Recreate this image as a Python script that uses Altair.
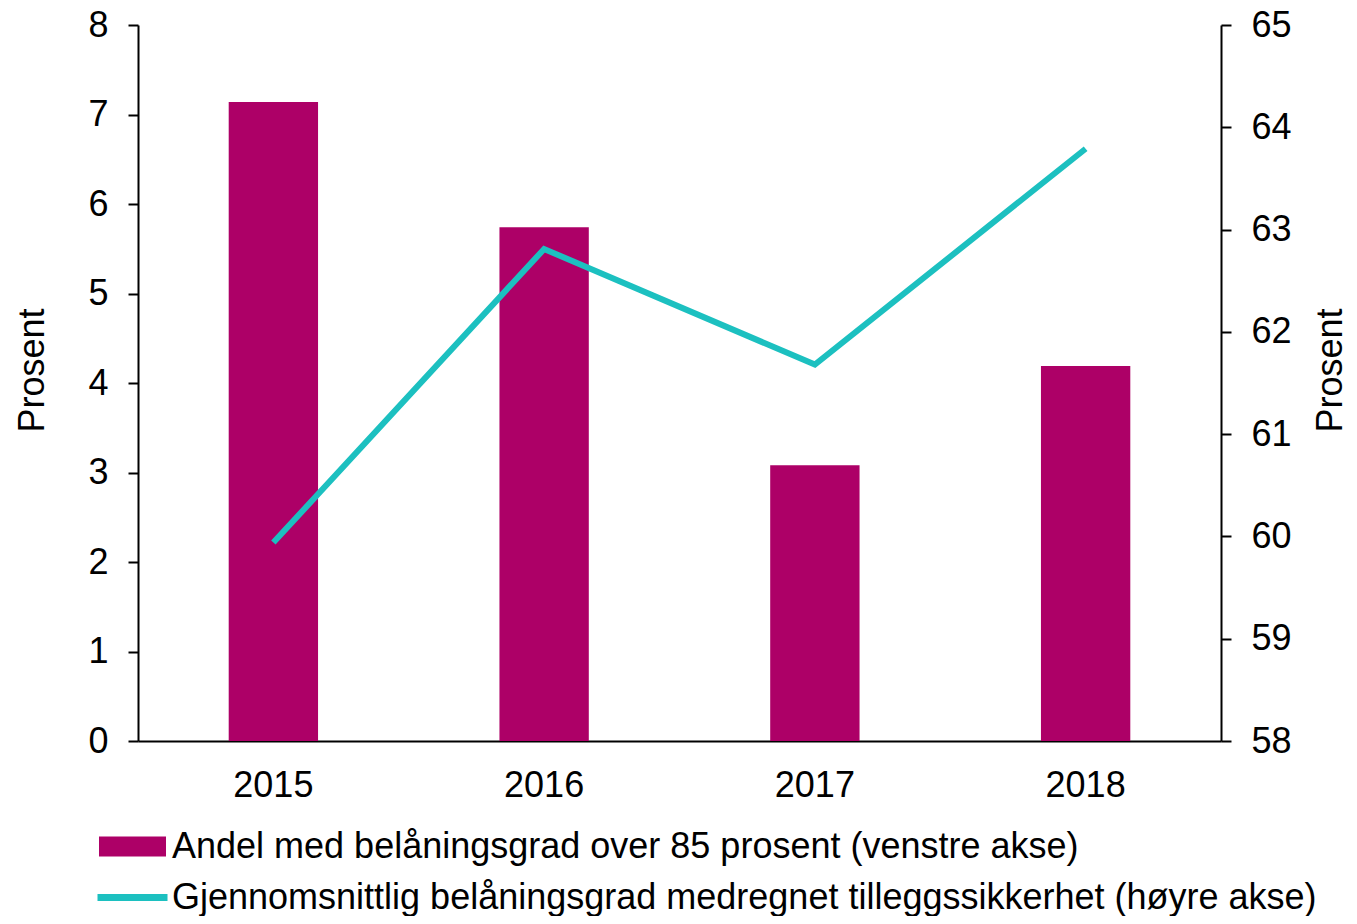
import altair as alt
import pandas as pd

years = ["2015", "2016", "2017", "2018"]
andel = [7.14, 5.74, 3.08, 4.19]
snitt = [59.94, 62.81, 61.68, 63.79]

bar_label = "Andel med belåningsgrad over 85 prosent (venstre akse)"
line_label = "Gjennomsnittlig belåningsgrad medregnet tilleggssikkerhet (høyre akse)"

df = pd.DataFrame({
    "year": years,
    "andel": andel,
    "snitt": snitt,
    "bar_series": [bar_label] * 4,
    "line_series": [line_label] * 4,
})

FONT = "Liberation Sans"
FS = 36
LFS = 36

x = alt.X(
    "year:N",
    scale=alt.Scale(paddingInner=0.67, paddingOuter=0.335),
    axis=alt.Axis(
        title=None, labelAngle=0, ticks=False, labelPadding=27,
        labelFontSize=FS, labelColor="black", domainColor="black",
        domainWidth=2, grid=False,
    ),
)

bars = alt.Chart(df).mark_bar(color="#AD0067").encode(
    x=x,
    y=alt.Y(
        "andel:Q",
        scale=alt.Scale(domain=[0, 8], nice=False, zero=True),
        axis=alt.Axis(
            values=list(range(0, 9)), tickSize=10, tickWidth=2, tickColor="black",
            domainColor="black", domainWidth=2, labelPadding=20,
            labelFontSize=FS, labelColor="black", grid=False,
            title="Prosent", titleFontSize=FS, titleFontWeight="normal",
            titleColor="black", titlePadding=36, titleY=345,
        ),
    ),
    fill=alt.Fill(
        "bar_series:N",
        scale=alt.Scale(domain=[bar_label], range=["#AD0067"]),
        legend=alt.Legend(
            title=None, orient="none", legendX=-39, legendY=788,
            symbolType="M-1,-0.3H1V0.3H-1Z", symbolSize=4489,
            symbolStrokeWidth=0, labelFontSize=LFS, labelColor="black",
            labelOffset=6, labelLimit=2000, padding=0,
        ),
    ),
)

line = alt.Chart(df).mark_line(color="#1CC0C0", strokeWidth=6).encode(
    x=x,
    y=alt.Y(
        "snitt:Q",
        scale=alt.Scale(domain=[58, 65], nice=False, zero=False),
        axis=alt.Axis(
            orient="right",
            values=list(range(58, 66)), tickSize=10, tickWidth=2, tickColor="black",
            domainColor="black", domainWidth=2, labelPadding=20,
            labelFontSize=FS, labelColor="black", grid=False,
            title="Prosent", titleFontSize=FS, titleFontWeight="normal",
            titleColor="black", titlePadding=22, titleAngle=270,
            titleBaseline="top", titleY=345,
        ),
    ),
    stroke=alt.Stroke(
        "line_series:N",
        scale=alt.Scale(domain=[line_label], range=["#1CC0C0"]),
        legend=alt.Legend(
            title=None, orient="none", legendX=-44, legendY=834,
            symbolType="stroke", symbolSize=4900, symbolStrokeWidth=7,
            labelFontSize=LFS, labelColor="black",
            labelOffset=1, labelLimit=2000, padding=0,
        ),
    ),
)

chart = (
    alt.layer(bars, line)
    .resolve_scale(y="independent", fill="independent", stroke="independent")
    .properties(
        width=1083, height=716,
        autosize=alt.AutoSizeParams(type="none"),
        padding={"left": 130, "top": 17, "right": 128, "bottom": 175},
        background="white",
    )
    .configure(font=FONT)
    .configure_view(stroke=None)
)

chart.save("out.html", embed_options={"renderer": "svg", "actions": False})
